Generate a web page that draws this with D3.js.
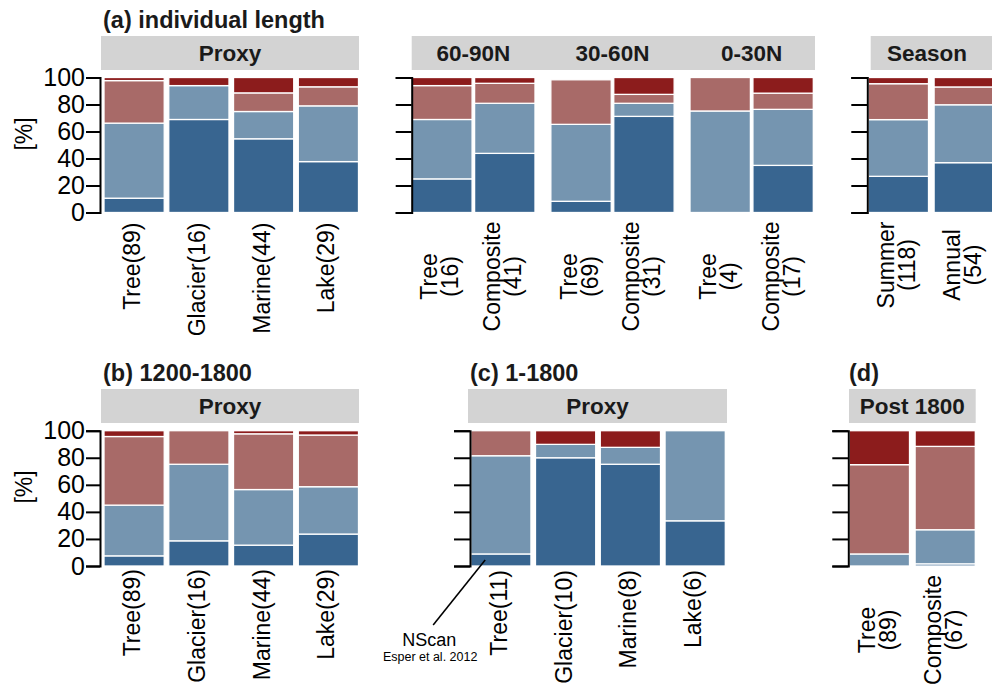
<!DOCTYPE html>
<html>
<head>
<meta charset="utf-8">
<script src="https://cdn.jsdelivr.net/npm/d3@7"></script>
<style>
  body { margin: 0; background: #fff; }
  text { font-family: "Liberation Sans", Arial, Helvetica, sans-serif; }
</style>
</head>
<body>
<div id="chart"></div>
<script>
// stack order, bottom to top
const segKeys = ['blueDark', 'blueLight', 'redLight', 'redDark'];
const segColors = ['#386590', '#7595b0', '#a86a68', '#8c1c1c'];
const yTicks = [0, 20, 40, 60, 80, 100];

// (a) individual length
const proxyCatsA = ['Tree(89)', 'Glacier(16)', 'Marine(44)', 'Lake(29)'];
const proxyValsA = [[10.6, 55.6, 31.5, 2.3], [68.9, 25.1, 0, 6.0], [54.6, 20.2, 13.8, 11.4], [37.7, 41.3, 14.1, 6.9]];

const regions = ['60-90N', '30-60N', '0-30N'];
const regionCats = [['Tree\n(16)', 'Composite\n(41)'], ['Tree\n(69)', 'Composite\n(31)'], ['Tree\n(4)', 'Composite\n(17)']];
const regionVals = [
  [[24.9, 44.0, 25.1, 6.0], [43.8, 37.1, 14.8, 4.3]],
  [[8.3, 57.0, 33.0, 0], [71.2, 9.7, 6.6, 12.5]],
  [[0, 75.2, 24.8, 0], [34.9, 41.5, 12.0, 11.6]],
];

const seasonCats = ['Summer\n(118)', 'Annual\n(54)'];
const seasonVals = [[26.8, 42.0, 26.6, 4.6], [36.9, 42.9, 13.2, 7.0]];

// (b) 1200-1800
const proxyCatsB = ['Tree(89)', 'Glacier(16)', 'Marine(44)', 'Lake(29)'];
const proxyValsB = [[7.5, 37.5, 50.7, 4.3], [18.6, 56.6, 24.8, 0], [15.4, 41.1, 41.2, 2.3], [23.6, 35.0, 38.2, 3.2]];

// (c) 1-1800
const proxyCatsC = ['Tree(11)', 'Glacier(10)', 'Marine(8)', 'Lake(6)'];
const proxyValsC = [[8.9, 72.6, 18.5, 0], [80.0, 9.9, 0, 10.1], [75.2, 12.5, 0, 12.3], [33.4, 66.6, 0, 0]];

// (d) post 1800
const postCats = ['Tree\n(89)', 'Composite\n(67)'];
const postVals = [[0, 8.9, 66.0, 25.1], [1.6, 25.2, 61.6, 11.6]];

const width = 992;
const height = 689;

const svg = d3.select('#chart')
  .append('svg')
  .attr('width', width)
  .attr('height', height);

const yTop = d3.scaleLinear().domain([0, 100]).range([212.5, 77.5]);
const yBot = d3.scaleLinear().domain([0, 100]).range([566, 430.7]);

function band(cats, r0, r1, pad) {
  return d3.scaleBand().domain(cats).range([r0, r1]).paddingInner(pad).paddingOuter(0);
}

function drawBars(cats, vals, x, y) {
  const rows = cats.map((c, i) => {
    const o = { cat: c };
    segKeys.forEach((k, j) => { o[k] = vals[i][j]; });
    return o;
  });
  const series = d3.stack().keys(segKeys)(rows);

  svg.append('g')
    .selectAll('g')
    .data(series)
    .join('g')
    .attr('fill', (d, i) => segColors[i])
    .selectAll('rect')
    .data(d => d.filter(s => s[1] - s[0] > 0))
    .join('rect')
    .attr('x', d => x(d.data.cat))
    .attr('width', x.bandwidth())
    .attr('y', d => y(d[1]))
    .attr('height', d => y(d[0]) - y(d[1]))
    .attr('stroke', '#fff')
    .attr('stroke-width', 1.3);
}

function drawAxis(y, x0, labels) {
  const axis = d3.axisLeft(y)
    .tickValues(yTicks)
    .tickSizeOuter(0)
    .tickSize(labels ? 14 : 16)
    .tickPadding(1)
    .tickFormat(labels ? d3.format('d') : '');

  const g = svg.append('g')
    .attr('transform', `translate(${x0},0)`)
    .call(axis)
    .attr('font-size', 25)
    .attr('font-family', '"Liberation Sans", Arial, sans-serif');

  g.select('.domain').attr('stroke', '#000').attr('stroke-width', 2);
  g.selectAll('.tick line').attr('stroke', '#000').attr('stroke-width', 2);
  g.selectAll('.tick text').attr('fill', '#000');
}

function drawStrip(x0, x1, top, labels) {
  svg.append('rect')
    .attr('x', x0)
    .attr('y', top)
    .attr('width', x1 - x0)
    .attr('height', 34)
    .attr('fill', '#d3d3d3');

  labels.forEach(([t, cx]) => {
    svg.append('text')
      .attr('x', cx)
      .attr('y', top + 24.5)
      .attr('text-anchor', 'middle')
      .attr('font-size', 22.5)
      .attr('font-weight', 'bold')
      .attr('fill', '#1a1a1a')
      .text(t);
  });
}

function drawTitle(t, x, yb) {
  svg.append('text')
    .attr('x', x)
    .attr('y', yb)
    .attr('font-size', 23.5)
    .attr('font-weight', 'bold')
    .attr('fill', '#1a1a1a')
    .text(t);
}

function drawYLabel(cy) {
  svg.append('text')
    .attr('transform', `translate(32,${cy}) rotate(-90)`)
    .attr('text-anchor', 'middle')
    .attr('font-size', 23)
    .attr('fill', '#000')
    .text('[%]');
}

// single line labels, right aligned just under the axis
function drawLabels(cats, x, axisY, gap) {
  cats.forEach(c => {
    const cx = x(c) + x.bandwidth() / 2;
    svg.append('text')
      .attr('transform', `translate(${cx + 6},${axisY + gap}) rotate(-90)`)
      .attr('text-anchor', 'end')
      .attr('font-size', 23)
      .attr('fill', '#000')
      .text(c);
  });
}

// two line labels, lines centred on each other
function drawLabels2(items, axisY) {
  const groups = items.map(([c, x]) => {
    const cx = x(c) + x.bandwidth() / 2;
    const g = svg.append('g');
    c.split('\n').forEach((line, i) => {
      g.append('text')
        .attr('x', 0)
        .attr('y', i === 0 ? -4.5 : 16.5)
        .attr('text-anchor', 'middle')
        .attr('font-size', 23)
        .attr('fill', '#000')
        .text(line);
    });
    return { g, cx };
  });
  let maxLen = 0;
  groups.forEach(({ g }) => {
    g.selectAll('text').each(function () {
      maxLen = Math.max(maxLen, this.getComputedTextLength());
    });
  });
  const cy = axisY + 9 + maxLen / 2;
  groups.forEach(({ g, cx }) => g.attr('transform', `translate(${cx},${cy}) rotate(-90)`));
}

// ---- (a) individual length ----
const xA = band(proxyCatsA, 104, 358.5, 0.07);
drawTitle('(a) individual length', 103, 28);
drawStrip(101, 359, 36, [['Proxy', 230]]);
drawBars(proxyCatsA, proxyValsA, xA, yTop);
drawAxis(yTop, 100, true);
drawYLabel(134);
drawLabels(proxyCatsA, xA, 212.5, 10);

const xReg = d3.scaleBand().domain(regions).range([411.7, 813.3]).paddingInner(0.114).paddingOuter(0);
drawStrip(411.7, 815, 36, regions.map(r => [r, xReg(r) + xReg.bandwidth() / 2]));
const regItems = [];
regions.forEach((r, i) => {
  const xi = band(regionCats[i], xReg(r), xReg(r) + xReg.bandwidth(), 0.04);
  drawBars(regionCats[i], regionVals[i], xi, yTop);
  regionCats[i].forEach(c => regItems.push([c, xi]));
});
drawAxis(yTop, 411.7, false);
drawLabels2(regItems, 212.5);

const xS = band(seasonCats, 868.3, 994.3, 0.085);
drawStrip(870.7, 1000, 36, [['Season', 927]]);
drawBars(seasonCats, seasonVals, xS, yTop);
drawAxis(yTop, 867.3, false);
drawLabels2(seasonCats.map(c => [c, xS]), 212.5);

// ---- (b) 1200-1800 ----
const xB = band(proxyCatsB, 104, 358.5, 0.07);
drawTitle('(b) 1200-1800', 103, 381);
drawStrip(101, 359, 389, [['Proxy', 230]]);
drawBars(proxyCatsB, proxyValsB, xB, yBot);
drawAxis(yBot, 100, true);
drawYLabel(487);
drawLabels(proxyCatsB, xB, 566, 3);

// ---- (c) 1-1800 ----
const xC = band(proxyCatsC, 470.7, 725.3, 0.07);
drawTitle('(c) 1-1800', 470, 381);
drawStrip(468, 727, 389, [['Proxy', 597.5]]);
drawBars(proxyCatsC, proxyValsC, xC, yBot);
drawAxis(yBot, 470, false);
drawLabels(proxyCatsC, xC, 566, 4);

// NScan pointer
const nsFrom = [xC(proxyCatsC[0]) + xC.bandwidth() * 0.24, yBot(4.5)];
const nsTo = [nsFrom[0] - 52, nsFrom[1] + 65];
svg.append('line')
  .attr('x1', nsFrom[0]).attr('y1', nsFrom[1])
  .attr('x2', nsTo[0]).attr('y2', nsTo[1])
  .attr('stroke', '#000')
  .attr('stroke-width', 1.6);
svg.append('text')
  .attr('x', nsTo[0] - 4)
  .attr('y', nsTo[1] + 21)
  .attr('text-anchor', 'middle')
  .attr('font-size', 18)
  .attr('fill', '#000')
  .text('NScan');
svg.append('text')
  .attr('x', nsTo[0] - 3)
  .attr('y', nsTo[1] + 36.5)
  .attr('text-anchor', 'middle')
  .attr('font-size', 12.5)
  .attr('fill', '#000')
  .text('Esper et al. 2012');

// ---- (d) post 1800 ----
const xD = band(postCats, 849.3, 975.3, 0.085);
drawTitle('(d)', 849, 381);
drawStrip(849, 975.7, 389, [['Post 1800', 912.3]]);
drawBars(postCats, postVals, xD, yBot);
drawAxis(yBot, 848.3, false);
drawLabels2(postCats.map(c => [c, xD]), 566);
</script>
</body>
</html>
